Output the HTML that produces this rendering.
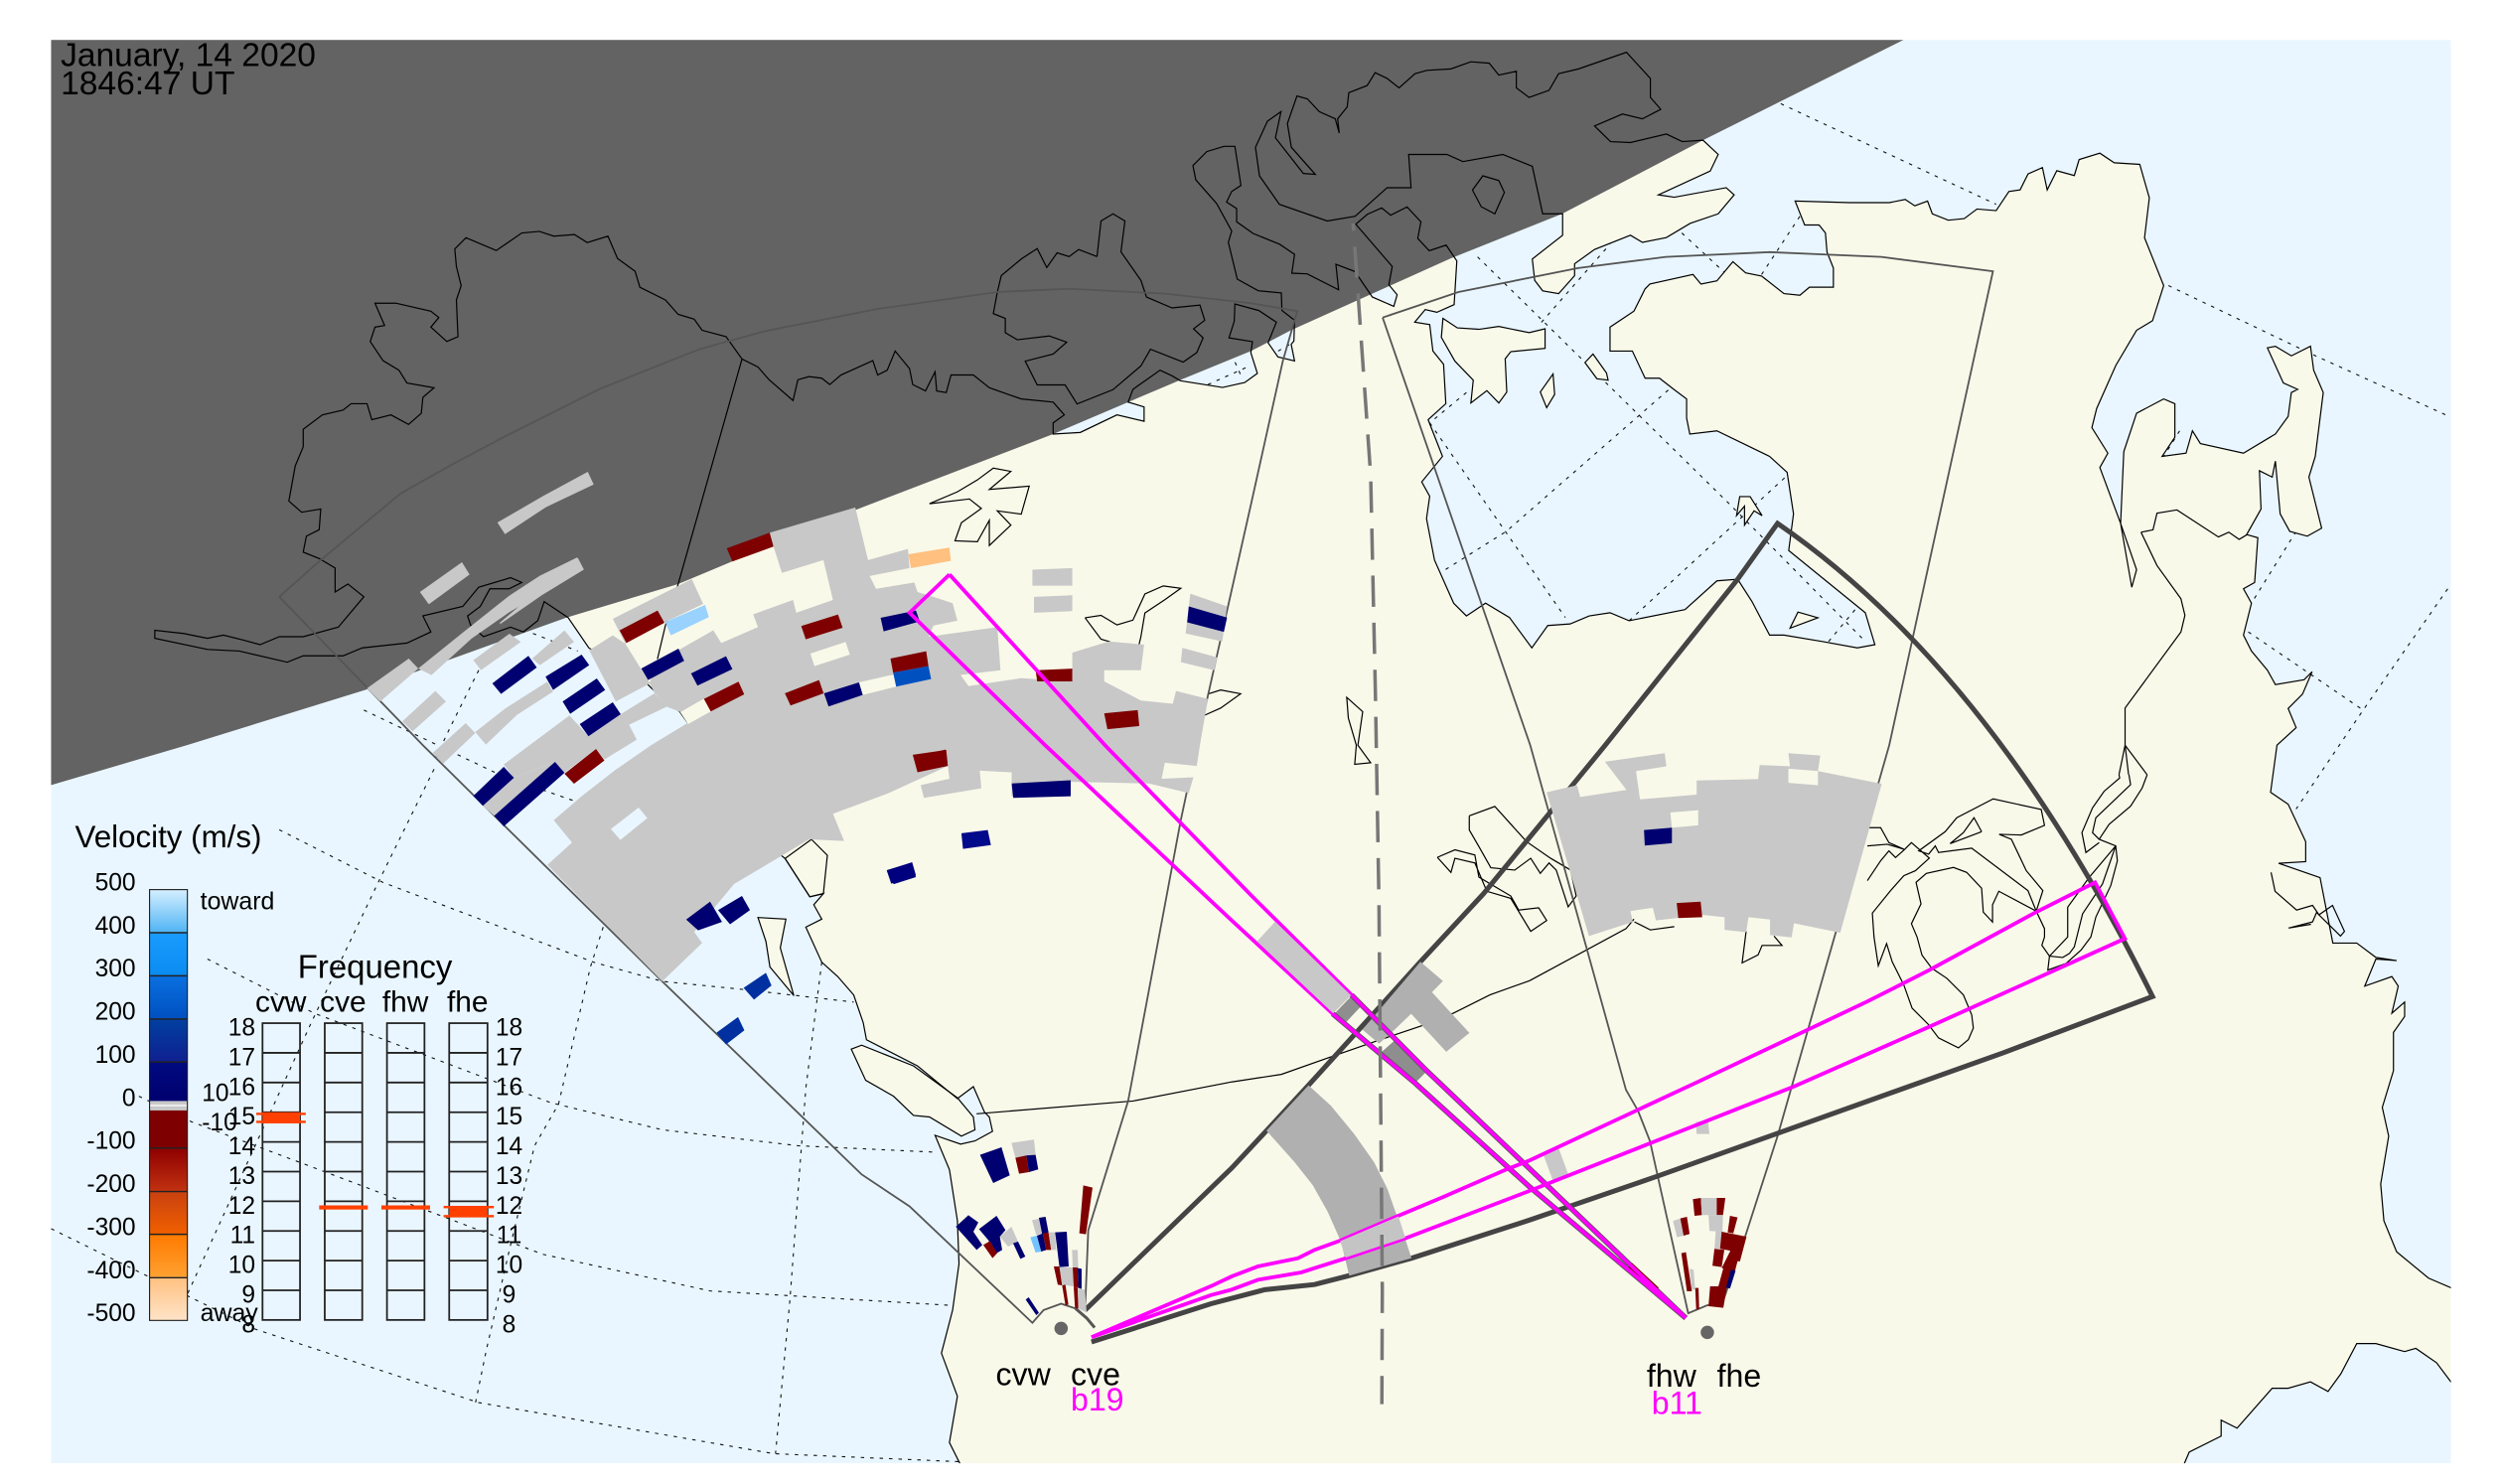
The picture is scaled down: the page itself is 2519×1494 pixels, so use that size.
<!DOCTYPE html>
<html><head><meta charset="utf-8"><title>SuperDARN velocity map</title>
<style>
html,body{margin:0;padding:0;background:#fff;width:2519px;height:1494px;overflow:hidden}
svg{display:block;position:absolute;left:0;top:0}
text{font-family:"Liberation Sans",sans-serif;fill:#000}
.n{vector-effect:non-scaling-stroke}
.g{fill:none;stroke:#111;stroke-width:1.1;stroke-dasharray:3.5 6}
.f{fill:none;stroke:#555;stroke-width:1.8}
.t{fill:none;stroke:#444;stroke-width:5;stroke-linejoin:miter}
.m{fill:none;stroke:#f0f;stroke-width:3.8;stroke-linejoin:miter}
.e{fill:none;stroke:#555;stroke-width:5.4}
.h{fill:none;stroke:#f0f;stroke-width:1.3}
.l{fill:none;stroke:#000;stroke-width:1.2}
</style></head><body>
<svg xmlns="http://www.w3.org/2000/svg" width="2519" height="1494" viewBox="0 0 1568 930">
<defs>
<clipPath id="pa"><rect x="32" y="25" width="1504" height="892"/></clipPath>
<g id="LS">
<polygon class="n" points="601.5,917 595,904 600,875 590,848 597,821 601,792 600,765 595,733 586,711.5 602,717 611,715 622,709 620,700 617,697 610,681 600,688.5 575,668 543,651.6 541,641 535,623.5 525,612 515,603 505,581 515,576 510,567 516,560 507.5,562 492,538 482,530 470,505 431,453 426,446 410,433 405,428 369,406 356,387 341,377 337,389 328,396 320,393 303,399 295,392 293,386 301,380 307,369 319,369 327,365 320,362 300,368 290,380 265,386 270,396 255,403 227,406 215,411 190,411 180,415 150,408 130,407 97,400 97,395 115,397 130,400 140,398 152,401 163,404 175,399 190,399 212,393 228,374 218,366 210,371 210,356 200,350 190,346 192,336 200,332 201,319 189,321 181,314 185,292 190,280 190,269 202,260 215,257 220,253 230,253 233,263 245,260 256,266 264,259 265,249 272,243 255,240 250,232 240,226 232,214 235,205 241,204 235,190 248,190 270,195 275,199 270,205 280,214 287,211 286,188 289,179 286,167 285,156 292,149 311,157 327,146 338,145 347,148 360,147 368,152 381,148 387,162 398,170 401,180 417,188 425,197 435,200 440,207 455,211 465,225 475,230 482,238 497,251 500,238 507,236 515,237 520,241 527,235 547,226 550,235 556,232 561,220 570,231 572,241 580,245 586,233 587,245 593,246 596,235 610,235 620,243 640,250 660,252 667,260 660,265 660,272 677,271 700,260 717,264 717,255 707,252 710,244 727,232 734.5,235.5 739.7,238.6 766.2,242.8 780.1,239.7 788,234 783.9,221 784.9,214.1 770.2,211.7 773.5,201.3 773.9,190.5 788.9,194.6 799.9,201.9 794.7,214.8 800.9,223.7 811.3,226.2 809.2,215.8 810.9,213.7 811.3,200.7 803.4,194.6 803,183.6 788.5,182.2 775.4,174.9 769.8,151.9 771.9,144.8 762.5,127.6 749.4,112.7 747.6,103.8 756.3,95 767.1,91.7 773.9,91.7 777.7,116.2 771.9,120 768.7,126.6 775,130.7 775,139 785.3,146.3 802,153.1 811.3,159.4 809.6,171.2 819.2,171.6 838.9,181.6 837.2,165.6 849.2,170.2 851.7,173.9 860,186.1 873.5,192 875.6,184.7 870.4,178.5 872.5,167 849.7,140.5 856.9,134.3 865.9,130.3 871.5,134.9 881.8,129.7 890.5,139 888.5,149.4 895.7,157.1 906.3,153.6 913,163.5 911.3,190.9 900.5,195.7 893.2,194 886.6,201.9 896,203.4 898,220 904.7,228.3 906.1,253 895,263 904,286 891,302 896,311 894,325 899,351 911,378 919,386 931,378 946,387 960,406 970,392 984,391 996,386 1009,384 1021,389 1056,382 1076,364 1089,363 1098,377 1109,398 1118,398 1142,402 1164,406 1175,404 1169,384 1121,345 1124,322 1120,296 1109,286 1076,270 1059,272 1057,262 1057,250 1049,244 1040,237 1031,237 1023,220 1009,220 1009,205 1024,195 1031,181 1034,178 1061,172 1066,178 1076,176 1086,164 1094,171 1104,173 1118,184 1128,185 1134,180 1149,180 1149,168 1145,158 1144,146 1140,141 1131,141 1125,126 1159,127 1184,127 1194,125 1200,129 1208,126 1211,134 1221,138 1231,137 1239,131 1251,132 1259,120 1266,119 1271,109 1280,105 1283,119 1289,107 1300,110 1303,100 1316,96 1325,102 1341,103 1347,124 1344,149 1356,179 1349,201 1339,207 1326,229 1314,256 1311,268 1321,284 1316,293 1329,328 1339,357 1336,368 1329,328 1331,283 1339,259 1356,250 1363,253 1363,274 1355,286 1370,284 1374,270 1379,278 1406,284 1426,272 1434,261 1436,246 1440,244 1431,240 1421,218 1426,217 1436,223 1448,217 1450,232 1456,246 1451,286 1447,299 1455,331 1446,336 1435,333 1429,322 1426,289 1424,299 1416,295 1417,319 1408,335 1415,337 1413,365 1406,369 1411,378 1406,398 1411,408 1421,420 1426,429 1444,426 1449,421 1443,435 1434,444 1439,456 1427,467 1423,496.5 1434,504 1445,527.5 1445,540 1428,541 1454,550 1462,591 1477,591 1489,600 1502,602 1489,601 1482,618 1499,612 1503,618 1499,635 1507,628 1507,637 1500,647 1500,671 1493,694 1497,712 1492,742 1494,765 1502,784.5 1522,801 1536,807 1600,807 1600,866 1536,866 1527,854 1514,845 1507,847 1489,842 1477,842 1467,861 1459,872 1448,866 1434,870 1424,870 1402,895 1392,890 1392,900 1372,910 1369,917 1369,960 601,960"/>
<polygon class="n" points="533.5,657.5 540,655 572.5,668 600,688 610,700 611,708 602.5,712 582.5,700 572.5,699 560,687 542.5,677"/>
<polygon class="n" points="475,575 492.5,576 489,594 497.5,624 482.5,606 480,590"/>
<polygon class="n" points="492,538 507.5,562 516,560 518.5,536 508.5,526"/>
<g transform="translate(784.3,0) scale(.5,.2978)">
<polygon class="n" points="430,265 450,298 475,300 520,282 540,298 566,295 585,325 575,360 510,410 530,415 595,395 605,410 585,450 550,470 520,500 490,510 475,495 430,525 405,555 405,580 385,618 365,612 355,590 352,545 390,495 390,450 365,450 352,350 315,325 265,340 245,325 197,325 200,395 170,395 130,455 95,465 35,430 10,370 5,310 20,255 37,235 30,290 65,365 80,367 50,310 45,260 57,202 70,208 85,235 105,250 110,280 108,250 120,225 122,195 145,180 155,153 170,165 185,185 205,155 220,148 250,145 275,130 298,133 310,158 332,150 332,185 348,205 373,190 385,155 410,145 470,110 500,165 500,205 513,230 490,250 465,240"/>
<polygon class="n" points="240,670 258,690 285,693 310,687 348,700 368,692 368,733 325,740 318,755 320,825 310,848 295,822 275,848 278,800 255,760 238,710"/>
<polygon class="n" points="290,370 310,380 317,405 305,450 288,435 277,400"/>
<polygon class="n" points="428,745 445,785 447,800 433,797 418,763"/>
<polygon class="n" points="378,787 380,830 370,858 362,825"/>
<polygon class="n" points="612,1045 625,1045 640,1085 630,1075 618,1105 618,1065 608,1085"/>
<polygon class="n" points="675,1322 685,1288 710,1300"/>
</g>
</g>
</defs>
<rect width="1568" height="930" fill="#fff"/>
<g clip-path="url(#pa)">
<rect x="32" y="25" width="1504" height="892" fill="#e9f6ff"/>
<!-- grid -->
<g>
<polyline class="n g" points="175,520 240,553 372,603 415,615 465,620 535,628"/>
<polyline class="n g" points="130,601 197,635 345,691 415,708 500,718 585,722"/>
<polyline class="n g" points="87,687 120,703 200,733 340,786 445,809 595,818"/>
<polyline class="n g" points="32,770 95,801 160,833 300,879 485,911 601,916"/>
<polyline class="n g" points="272,482 237,553 195,641 117,812"/>
<polyline class="n g" points="378,581 370,606 350,692 335,718 320,780 305,845 298,879"/>
<polyline class="n g" points="515,603 505,682 495,815 486,911"/>
<polyline class="n g" points="300,420 283,454 272,477"/>
<polyline class="n g" points="228,445 310,484"/>
<polyline class="n g" points="334,397 362,408"/>
<polyline class="n g" points="340,495 363,503"/>
<polyline class="n g" points="1116,65 1251,128"/>
<polyline class="n g" points="1359,179 1449,222 1535,261"/>
<polyline class="n g" points="1534,369 1481,445 1439,507"/>
<polyline class="n g" points="1409,396 1481,445"/>
<polyline class="n g" points="1439,333 1411,378"/>
<polyline class="n g" points="1366,270 1356,286"/>
<polyline class="n g" points="926,161 1029,262 1084,316 1169,402"/>
<polyline class="n g" points="896,265 981,387"/>
<polyline class="n g" points="901,360 944,333 1046,244"/>
<polyline class="n g" points="1021,389 1120,298"/>
<polyline class="n g" points="919,246 896,265"/>
<polyline class="n g" points="966,202 1009,153"/>
<polyline class="n g" points="1054,146 1081,171"/>
<polyline class="n g" points="1104,172 1129,134"/>
<polyline class="n g" points="1146,402 1171,372"/>
<polyline class="n g" points="757,241 784,229"/>
<polyline class="n g" points="774,227 778,236"/>
<polyline class="n g" points="801,220 808,216"/>
</g>
<g fill="#f9f9ea" stroke="none"><use href="#LS"/></g>
<!-- night -->
<polygon fill="#636363" points="20,25 1193,25 1067,88 979,134 909,162 809,207 784,220 740,238 660,272 535,320 425,366 355,387 230,432 117,467 32,492 20,500"/>
<!-- coast outlines -->
<g fill="none" stroke="#000" stroke-width="1.2"><use href="#LS"/></g>
<!-- lakes + inland lines -->
<g transform="translate(784.3,467) scale(.5,.2953)">
<polyline class="n l" points="273,150 305,130 345,205 375,240 400,265 407,320 397,343 382,265 373,250 362,272 350,240 330,265 300,260 285,215 273,180 273,150"/>
<polyline class="n l" points="233,238 255,222 280,233 285,280 325,320 335,350 360,345 370,372 350,395 325,325 295,310 280,250 255,240 250,270 233,238"/>
<polyline class="n l" points="1278,270 1283,310 1310,350 1330,340 1338,360 1355,340 1370,395 1365,405 1335,355 1330,375 1300,388 1328,380"/>
<polyline class="n l" points="620,395 615,462 635,445 640,425 665,425 655,405"/>
<polyline class="n l" points="480,375 500,392 530,385"/>
</g>
<g transform="translate(1170.3,485.5) scale(.2075)">
<polyline class="n l" points="0,320 40,260 65,230 85,250 110,228 133,205 187,252 145,290 110,305 70,350 15,418 20,490 33,577 58,510 75,565 110,635 135,705 185,755 215,795 275,825 305,800 320,765 315,725 290,665 240,615 195,585 165,545 150,490 133,450 162,390 147,325 178,298 260,280 300,295 345,343 350,415 378,445 378,393 397,352 510,412 530,350 480,290 435,195 398,180 465,182 535,153 525,105 380,73 270,130 235,172 155,230 185,240 205,215 215,235 315,222 485,350 510,412 535,465 535,490 527,515 550,548 590,552 610,540 625,520 650,420 710,330 750,215 700,195 680,175 690,130 795,30 790,0"/>
<polyline class="n l" points="345,172 322,130 290,175 250,208 345,172"/>
<polyline class="n l" points="0,215 60,210 110,225"/>
<polyline class="n l" points="0,160 40,160 65,205 110,225"/>
<polyline class="n l" points="845,0 830,40 795,95 730,150 700,195"/>
<polyline class="n l" points="760,0 762,10 715,50 680,100 648,175 660,235 700,205"/>
<polyline class="n l" points="750,215 755,260 735,335 690,430 675,490 645,530 600,570 545,590 550,548 605,490 605,400 670,310 750,215"/>
</g>
<polyline class="n l" points="1331.8,467 1345.6,485.5"/>
<polyline class="n l" points="1331.8,467 1328,485.5"/>
<polyline class="n l" points="1331.8,467 1334,485.5"/>
<g transform="translate(784.3,0) scale(.5,.2978)">
<polyline class="n l" points="1115,1120 1130,1115 1135,1080 1160,1073 1212,1130 1225,1120 1238,1135 1248,1125"/>
<polyline class="n l" points="1115,1120 1135,1190 1165,1260 1170,1295 1165,1330 1095,1490 1095,1568"/>
</g>
<g transform="scale(.5,.2978)">
<polyline class="n l" points="1165,1060 1200,1035 1225,1010 1245,985 1267,992 1240,1030 1290,1023 1280,1082 1250,1075 1267,1105 1240,1148 1240,1095 1225,1140 1197,1138 1205,1100 1230,1070 1215,1050 1165,1060"/>
<polyline class="n l" points="1360,1300 1380,1295 1400,1315 1420,1305 1435,1250 1458,1233 1480,1238 1460,1262 1435,1290 1430,1340 1425,1375 1390,1350 1380,1345 1360,1300"/>
<polyline class="n l" points="1515,1460 1530,1452 1555,1460 1530,1490 1510,1505"/>
<polyline class="n l" points="1375,540 1380,465 1395,450 1410,465 1405,530 1430,590 1437,625 1469,648 1504,642 1510,674 1496,692 1508,711 1500,742 1483,762 1442,735 1430,770 1395,820 1350,850 1335,810 1300,810 1285,760 1320,745 1337,720 1315,707 1275,715 1260,700 1260,670 1245,660 1250,615 1255,580 1280,545 1300,523 1312,563 1325,532 1340,540 1352,525 1375,540"/>
</g>
<polygon class="n l" points="844,437 854,446 851,467 859,478 849,479 850,467 845,450" fill="none"/>
<g transform="translate(771.9,560.2) scale(.2075)">
<polyline class="n l" points="0,568 150,545 300,492 450,440 575,398 670,360 780,305 900,262"/>
</g>
<polyline class="n l" points="612,698 710,690 771.9,678"/>
<polyline class="n l" points="958.6,614.6 1019,582 1024,576"/>
<polyline class="n l" points="465,225 425,366 417,392 412,413"/>
<!-- FOV thin -->
<polyline class="n f" points="175,374 201.3,350.7 251.1,309.2 284.3,290.5 319.6,271.9 375.6,243.8 437.9,219 479.4,207.5 550,193.6 625,183 670,181 730,184 784,190 813,195 804,226 784,316 750,467 740,514 707,690 682,771 680,821"/>
<polyline class="n f" points="175,374 265,467 415,615 540,736 570,756 647,829 654,821 665,817 674,820 681,826"/>
<polyline class="n f" points="866.5,199 914,183 989,168 1044,161 1109,158 1179,161 1249,170 1184,467 1114,712 1094,774 1079,818 1070,818 1058,823 1034,715 1026.5,696 1019,683 959,467 866.5,199"/>
<!-- thick beam -->
<path class="n t" d="M680 821L771.9 732L793.7 708.6L820 680.1L861.1 634.9L890.2 602.7L929.6 560.2L1006 467L1089 363L1114 328Q1248 420 1349 624.5L1255.4 659.8L1039 737L958.6 764.6L884.6 788.5L845.6 799.4L823.8 805L792.7 808.2L759 817L684 841"/>
<polyline class="n" style="fill:none;stroke:#555;stroke-width:3" points="674,820 681,826 686,832"/>
</g>
<!-- radar data -->
<g clip-path="url(#pa)" fill="#c8c8c8">
<polygon points="343,542 358.5,528 347,514 364.5,499 385,483 408,467 431,453 426,446 418,443 410,434 407,428 412,415 447,395 452,403 475,393 472,385 497,376 499,384 522,376 516,351 490,359 482,334 536,318 544,351 569,344 570,356 545,361 549,369 573,365 575,371 585,374 597,378 600,389 585,392 582,399 625,393 627,420 602,423 607,430 640,425 672,427 672,409 695,402 717,404 715,420 692,420 692,427 715,439 735,441 737,433 757,438 752,467 750,480 745,497 720,491 671,490 671,499 634,499 634,484 614,483 615,494 579,500 577,492 595,488 594,480 557,497 522,510 529,527 507,526 487,538 460,554 435,584 440,591 415,615"/>
<g transform="translate(224,311) scale(.2381,.2075)">
<polygon fill="#f9f9ea" points="850,652 895,622 912,612 930,650 870,688"/>
<polygon fill="#f9f9ea" points="1192,475 1285,440 1296,478 1203,513"/>
<polygon fill="#f9f9ea" points="1320,562 1412,538 1418,575 1330,600"/>
<polygon fill="#e9f6ff" points="667,1005 740,940 763,972 692,1038"/>
<polygon points="672,370 880,250 910,325 810,380 800,385 705,445"/>
<polygon points="610,465 672,420 705,445 770,565 680,620"/>
<polygon points="385,810 558,662 608,725 693,658 782,595 815,635 715,690 735,735 650,795 628,763 545,835 520,802 412,850"/>
<polygon points="330,935 412,850 520,802 360,965"/>
<polygon points="305,495 400,415 430,440 325,525"/>
<polygon points="460,490 545,405 570,440 480,510"/>
<polygon points="25,580 135,490 160,520 60,620"/>
<polygon points="160,520 290,400 400,300 480,240 578,185 595,220 490,290 400,350 300,430 195,540"/>
<polygon points="118,680 205,588 233,620 145,710"/>
<polygon points="198,775 285,685 310,715 225,808"/>
<polygon points="310,712 390,640 500,560 515,590 420,660 338,750"/>
<polygon fill="#000070" points="495,545 590,478 610,510 515,585"/>
<polygon fill="#000070" points="355,565 450,482 472,517 378,597"/>
<polygon fill="#000070" points="540,620 630,550 652,585 560,657"/>
<polygon fill="#000070" points="585,688 672,622 693,658 608,725"/>
<polygon fill="#000070" points="305,905 385,817 412,850 330,935"/>
<polygon fill="#000070" points="360,965 520,802 545,835 385,997"/>
<polygon fill="#7e0000" points="545,838 628,763 650,798 570,868"/>
<polygon fill="#7e0000" points="690,405 790,345 808,382 708,443"/>
<polygon fill="#99d2ff" points="810,380 915,328 925,365 825,420"/>
<polygon fill="#000070" points="747,520 845,460 860,497 765,555"/>
<polygon fill="#000070" points="878,535 970,483 987,522 895,572"/>
<polygon fill="#7e0000" points="912,612 1003,560 1018,598 930,650"/>
<polygon fill="#7e0000" points="1168,392 1265,357 1277,397 1180,432"/>
<polygon fill="#7e0000" points="1125,595 1215,555 1227,595 1140,632"/>
<polygon fill="#000070" points="1228,595 1320,562 1330,600 1240,635"/>
<polygon fill="#000070" points="1377,367 1470,345 1480,378 1385,408"/>
<polygon fill="#7e0000" points="1403,490 1497,468 1503,513 1410,533"/>
<polygon fill="#0050c0" points="1410,533 1503,513 1510,552 1418,575"/>
<polygon fill="#7e0000" points="1465,787 1548,765 1553,805 1475,827"/>
<polygon fill="#000080" points="1393,1130 1460,1105 1470,1145 1405,1170"/>
<polygon fill="#7e0000" points="972,157 1085,110 1095,152 987,197"/>
<polygon fill="#ffc080" points="1450,175 1558,155 1562,195 1457,217"/>
</g>
<g transform="translate(168.1,168.1) scale(.2075)">
<polygon points="692,768 830,688 965,615 983,653 838,722 715,803"/>
<polygon points="458,978 585,888 608,925 485,1015"/>
<polygon points="830,985 935,875 953,910 830,985" />
<polygon points="700,1070 830,960 935,875 953,910 830,985 700,1075"/>
</g>
<polygon fill="#7e0000" points="649,420 672,419 672,427 650,427"/>
<polygon fill="#7e0000" points="692,447 713,445 714,455 694,457"/>
<polygon fill="#f9f9ea" points="730,478 750,480 750,487 728,488"/>
<polygon points="647,357 672,356 672,367 647,367"/>
<polygon points="648,374 672,373 672,383 648,384"/>
<polygon points="746,372 769,380 766,402 743,397"/>
<polygon fill="#000070" points="745,380 769,387 767,396 744,390"/>
<polygon points="741,406 763,412 761,420 740,415"/>
<polygon fill="#7e0000" points="572,473 593,470 594,480 575,484"/>
<polygon fill="#000070" points="634,491 671,489 671,499 635,500"/>
<g transform="translate(0,467) scale(.5,.2953)">
<polygon fill="#000070" points="860,370 890,332 905,375 875,393"/>
<polygon fill="#000070" points="900,350 930,320 940,350 915,380"/>
<polygon fill="#0030a0" points="932,515 960,483 967,510 945,540"/>
<polygon fill="#0030a0" points="898,610 925,577 933,605 910,635"/>
<polygon fill="#00007e" points="1112,265 1142,250 1148,280 1120,295"/>
<polygon fill="#000a8a" points="1205,187 1238,180 1242,212 1207,220"/>
</g>
<g transform="translate(771.9,560.2) scale(.2075)">
<polygon fill="#8e8e8e" points="310,362 362,308 390,340 345,388"/>
<polygon fill="#b0b0b0" points="395,410 570,205 638,263 605,297 718,420 648,477 542,362 490,412 445,452"/>
<polygon fill="#8e8e8e" points="450,480 495,440 590,535 553,572"/>
<polygon fill="#b0b0b0" points="105,715 232,578 300,640 370,725 430,810 470,890 500,975 525,1045 543,1100 355,1153 330,1050 290,960 245,880 190,810"/>
</g>
<g transform="translate(784.3,467) scale(.5,.2953)">
<polygon points="365,865 385,855 398,915 378,925"/>
<polygon points="557,800 572,795 574,825 558,825"/>
<polygon points="370,100 408,85 412,110 470,95 443,35 518,17 520,45 482,55 487,115 558,105 558,75 635,72 637,42 675,45 673,17 713,22 710,55 790,82 738,398 680,378 677,408 650,403 650,370 623,365 620,397 593,392 593,365 565,360 533,367 507,372 503,345 475,352 478,375 423,405"/>
<polygon fill="#f9f9ea" points="525,143 560,138 560,170 527,175"/>
<polygon fill="#f9f9ea" points="673,50 710,55 710,85 673,80"/>
<polygon fill="#000070" points="492,180 527,175 527,208 493,213"/>
<polygon fill="#7e0000" points="533,335 563,332 565,365 535,367"/>
</g>
<g transform="translate(585.1,703.4) scale(.2075)">
<polygon fill="#000070" points="140,98 205,75 230,160 180,183"/>
<polygon points="235,62 303,52 308,98 247,107"/>
<polygon fill="#7e0000" points="247,107 280,100 288,150 258,155"/>
<polygon fill="#000070" points="280,100 308,98 316,142 288,150"/>
<polygon fill="#7e0000" points="452,190 480,197 460,338 440,335"/>
<polygon fill="#000070" points="67,315 105,280 135,302 120,330 147,370 130,385"/>
<polygon fill="#000070" points="137,322 190,282 217,325 200,345 207,385 190,395 165,355"/>
<polygon fill="#7e0000" points="150,370 170,358 192,395 178,410"/>
<polygon points="200,345 235,315 255,360 225,375"/>
<polygon fill="#000070" points="240,365 255,360 277,405 262,412"/>
<polygon points="297,295 322,290 328,335 310,340"/>
<polygon fill="#000070" points="318,288 338,285 347,332 328,338"/>
<polygon fill="#72c4ff" points="292,347 312,342 325,390 308,393"/>
<polygon fill="#000070" points="312,342 330,335 340,385 325,390"/>
<polygon fill="#7e0000" points="330,335 347,332 355,385 340,385"/>
<polygon points="347,332 367,332 370,385 355,385"/>
<polygon fill="#000070" points="367,332 402,330 408,435 380,437"/>
<polygon points="418,385 435,385 437,438 420,438"/>
<polygon fill="#7e0000" points="363,435 380,435 388,492 375,490"/>
<polygon points="380,437 420,438 422,495 388,490"/>
<polygon fill="#7e0000" points="420,438 435,438 437,500 423,497"/>
<polygon fill="#000070" points="435,440 447,442 447,503 437,500"/>
<polygon fill="#7e0000" points="388,492 398,490 407,550 398,552"/>
<polygon fill="#7e0000" points="423,497 435,500 437,562 427,560"/>
<polygon points="435,502 457,505 462,575 438,562"/>
<polygon fill="#000070" points="278,535 287,528 318,575 310,582"/>
</g>
<g transform="translate(1020.9,734.5) scale(.2075)">
<polygon fill="#7e0000" points="193,82 217,78 220,130 198,132"/>
<polygon points="217,78 265,78 265,130 220,130"/>
<polygon fill="#7e0000" points="265,78 291,78 284,130 265,130"/>
<polygon points="240,130 284,130 282,180 243,178"/>
<polygon fill="#7e0000" points="305,132 328,137 315,185 298,182"/>
<polygon points="133,148 155,140 165,192 145,197"/>
<polygon fill="#7e0000" points="155,140 175,135 183,187 165,192"/>
<polygon points="262,178 282,180 275,232 258,232"/>
<polygon fill="#7e0000" points="280,180 355,195 335,270 310,265 305,237 275,232"/>
<polygon fill="#7e0000" points="258,232 288,235 280,287 252,283"/>
<polygon fill="#7e0000" points="158,245 172,242 190,360 175,360"/>
<polygon points="183,292 195,295 200,355 190,355"/>
<polygon fill="#7e0000" points="305,240 335,240 320,300 280,290"/>
<polygon fill="#7e0000" points="285,290 320,295 305,350 295,350 285,410 240,405 245,345 270,345"/>
<polygon fill="#000070" points="308,295 322,298 305,352 293,348"/>
<polygon fill="#7e0000" points="200,350 210,350 212,415 203,415"/>
</g>
<!-- magenta beams -->
<polyline class="n e" points="847,623.5 894.3,671.2 958.6,732.4 1056.5,826"/>
<polyline class="n e" points="835.2,635.3 887,678.9 958.6,743.8 1056.5,826"/>
<polygon fill="#7e0000" points="1020.9,791.6 1023,791.6 1039.6,807 1036.5,810.3 1020.9,796.8"/>
<polyline class="n m" points="684,838 759,806 771.9,799.9 788.5,793.6 813.4,788.5 823.8,783.3 839.8,777.5 876.3,761.9 904.7,750 945.2,732.4 958.6,727.2 1064,678 1170.3,627.6 1209,608 1276,571.6 1313,553 1331.7,588.2 1294.8,604.8 1209.7,643.2 1124,681 958.6,746.3 880.8,776 843.5,788.5 823.8,794.7 815.5,797.4 788.5,802 771.9,808.2 759,811.6 684,838"/>
<polyline class="n m" points="595,360 692.5,467 784,561 847,623.5 894.3,671.2 958.6,732.4 1056.5,826 958.6,743.8 887,678.9 835.2,635.3 771.9,576.8 655,467 570,384 595,360"/>
<g transform="translate(771.9,560.2) scale(.2075)">
<polygon points="75,145 133,82 362,305 305,362"/>
<polygon fill="#c4c4c4" points="327,1047 503,972 525,1040 345,1100"/>
<polyline class="n h" points="75,145 305,362"/>
<polyline class="n h" points="133,82 362,305"/>
<polyline class="n h" points="327,1047 503,972"/>
<polyline class="n h" points="345,1100 525,1040"/>
</g>
<!-- dashed -->
<polyline class="n" points="848,140 859,298 862,436 864.2,566 866.3,809 866,880" fill="none" stroke="#777" stroke-width="3.5" stroke-dasharray="31.5 15.9" stroke-dashoffset="24"/>
<!-- radar dots -->
<circle cx="665" cy="832.5" r="4.2" fill="#666"/>
<circle cx="1070" cy="835" r="4.2" fill="#666"/>
</g>
<!-- colorbar -->
<defs>
<linearGradient id="cb" x1="0" y1="0" x2="0" y2="1">
<stop offset="0" stop-color="#d4efff"/><stop offset=".203" stop-color="#50b4f4"/>
<stop offset=".204" stop-color="#1a9cff"/><stop offset=".407" stop-color="#0a8cf0"/>
<stop offset=".408" stop-color="#0a70e0"/><stop offset=".611" stop-color="#0050c0"/>
<stop offset=".612" stop-color="#0040a0"/><stop offset=".815" stop-color="#102090"/>
<stop offset=".816" stop-color="#000a80"/><stop offset="1" stop-color="#00006e"/>
</linearGradient>
<linearGradient id="cb2" x1="0" y1="0" x2="0" y2="1">
<stop offset="0" stop-color="#8e0000"/><stop offset=".245" stop-color="#c03010"/>
<stop offset=".25" stop-color="#c84010"/><stop offset=".495" stop-color="#f06000"/>
<stop offset=".5" stop-color="#ff7a00"/><stop offset=".745" stop-color="#ffa030"/>
<stop offset=".75" stop-color="#ffc080"/><stop offset="1" stop-color="#ffe4c8"/>
</linearGradient>
</defs>
<rect x="93.7" y="557.5" width="23.7" height="132.5" fill="url(#cb)"/>
<rect x="93.7" y="690" width="23.7" height="5.9" fill="#c8c8c8"/>
<rect x="93.7" y="692.3" width="23.7" height="1" fill="#f4f4f4"/>
<rect x="93.7" y="695.9" width="23.7" height="23.6" fill="#7e0000"/>
<rect x="93.7" y="719.5" width="23.7" height="108" fill="url(#cb2)"/>
<rect x="93.7" y="557.5" width="23.7" height="270" fill="none" stroke="#222" stroke-width=".7"/>
<g stroke="#222" stroke-width=".9">
<line x1="93.7" x2="117.4" y1="584.5" y2="584.5"/><line x1="93.7" x2="117.4" y1="611.5" y2="611.5"/>
<line x1="93.7" x2="117.4" y1="638.6" y2="638.6"/><line x1="93.7" x2="117.4" y1="665.5" y2="665.5"/>
<line x1="93.7" x2="117.4" y1="719.5" y2="719.5"/><line x1="93.7" x2="117.4" y1="746.7" y2="746.7"/>
<line x1="93.7" x2="117.4" y1="773.5" y2="773.5"/><line x1="93.7" x2="117.4" y1="800.7" y2="800.7"/>
</g>
<g font-size="15.3" text-anchor="end">
<text x="85" y="558">500</text><text x="85" y="585">400</text><text x="85" y="612">300</text><text x="85" y="639">200</text><text x="85" y="666">100</text><text x="85" y="693">0</text><text x="85" y="720">-100</text><text x="85" y="747">-200</text><text x="85" y="774">-300</text><text x="85" y="801">-400</text><text x="85" y="828">-500</text>
</g>
<text x="125.5" y="570" font-size="15.5">toward</text>
<text x="125.5" y="828" font-size="15.5">away</text>
<text x="126.5" y="690" font-size="15.3">10</text>
<text x="126.5" y="708.5" font-size="15.3">-10</text>
<text x="47" y="531" font-size="19.5">Velocity (m/s)</text>
<text x="235" y="613" font-size="20.5" text-anchor="middle">Frequency</text>
<g font-size="18.6" text-anchor="middle"><text x="176" y="634">cvw</text><text x="215" y="634">cve</text><text x="254" y="634">fhw</text><text x="293" y="634">fhe</text></g>
<!-- freq boxes -->
<g fill="none" stroke="#222" stroke-width="1.1">
<rect x="164.5" y="641.2" width="23.5" height="186"/><rect x="203.5" y="641.2" width="23.5" height="186"/><rect x="242.5" y="641.2" width="23.5" height="186"/><rect x="281.5" y="641.2" width="24" height="186"/>
<path d="M164.5 659.8H188M164.5 678.4H188M164.5 697H188M164.5 715.6H188M164.5 734.2H188M164.5 752.8H188M164.5 771.4H188M164.5 790H188M164.5 808.6H188"/>
<path d="M203.5 659.8H227M203.5 678.4H227M203.5 697H227M203.5 715.6H227M203.5 734.2H227M203.5 752.8H227M203.5 771.4H227M203.5 790H227M203.5 808.6H227"/>
<path d="M242.5 659.8H266M242.5 678.4H266M242.5 697H266M242.5 715.6H266M242.5 734.2H266M242.5 752.8H266M242.5 771.4H266M242.5 790H266M242.5 808.6H266"/>
<path d="M281.5 659.8H305.5M281.5 678.4H305.5M281.5 697H305.5M281.5 715.6H305.5M281.5 734.2H305.5M281.5 752.8H305.5M281.5 771.4H305.5M281.5 790H305.5M281.5 808.6H305.5"/>
</g>
<g fill="#ff4000">
<rect x="164.5" y="697" width="23.5" height="7"/><rect x="160.6" y="697.3" width="31" height="1.5"/><rect x="160.6" y="702.3" width="31" height="1.5"/>
<rect x="200" y="755.4" width="30.5" height="2.6"/>
<rect x="239" y="755.4" width="30.5" height="2.6"/>
<rect x="281.5" y="755.7" width="24" height="7.2"/><rect x="278" y="755.7" width="31.5" height="1.5"/><rect x="278" y="761.4" width="31.5" height="1.5"/>
</g>
<g font-size="15.3" text-anchor="end">
<text x="160" y="649">18</text><text x="160" y="667.6">17</text><text x="160" y="686.2">16</text><text x="160" y="704.8">15</text><text x="160" y="723.4">14</text><text x="160" y="742">13</text><text x="160" y="760.6">12</text><text x="160" y="779.2">11</text><text x="160" y="797.8">10</text><text x="160" y="816.4">9</text><text x="160" y="835">8</text>
</g>
<g font-size="15.3" text-anchor="middle">
<text x="319" y="649">18</text><text x="319" y="667.6">17</text><text x="319" y="686.2">16</text><text x="319" y="704.8">15</text><text x="319" y="723.4">14</text><text x="319" y="742">13</text><text x="319" y="760.6">12</text><text x="319" y="779.2">11</text><text x="319" y="797.8">10</text><text x="319" y="816.4">9</text><text x="319" y="835">8</text>
</g>
<!-- title -->
<text x="38" y="41.5" font-size="20.9">January, 14 2020</text>
<text x="38" y="59" font-size="20.9">1846:47 UT</text>
<!-- station labels -->
<g font-size="20">
<text x="624" y="868">cvw</text><text x="671" y="868">cve</text>
<text x="1032" y="869">fhw</text><text x="1076" y="869">fhe</text>
<text x="671" y="884" style="fill:#f0f">b19</text>
<text x="1035" y="886" style="fill:#f0f">b11</text>
</g>
</svg>
</body></html>
